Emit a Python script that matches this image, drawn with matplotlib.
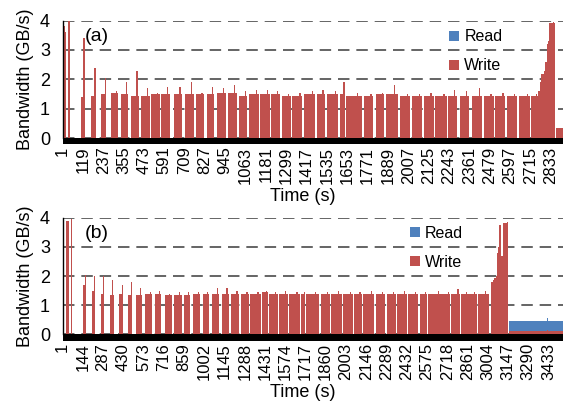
import numpy as np
import matplotlib
matplotlib.use("Agg")
import matplotlib.pyplot as plt
from matplotlib.patches import Rectangle

plt.rcParams["font.family"] = ["Liberation Sans", "DejaVu Sans"]

READ_COLOR = "#4F81BD"
WRITE_COLOR = "#C0504D"

# ---- run (a) : per-second bandwidth, write bursts (start s, end s, level, peak in GB/s)
a_seconds = 2907
a_tick_step = 118
a_write_start = [1, 15, 32, 111, 168, 226, 284, 342, 400, 459, 517, 575, 648, 710, 775, 837,
                 895, 959, 1024, 1084, 1148, 1211, 1273, 1334, 1404, 1476, 1538, 1612, 1647,
                 1751, 1821, 1879, 1961, 2029, 2100, 2164, 2238, 2310, 2378, 2445, 2513, 2581,
                 2649, 2720, 2763, 2781, 2804, 2815, 2825, 2863]
a_write_end = [14, 22, 42, 126, 193, 255, 323, 381, 443, 507, 565, 623, 691, 763, 821, 881,
               947, 1011, 1073, 1141, 1206, 1261, 1327, 1393, 1466, 1525, 1602, 1641, 1738,
               1805, 1868, 1945, 2015, 2087, 2154, 2232, 2290, 2358, 2436, 2503, 2571, 2639,
               2716, 2762, 2780, 2803, 2814, 2824, 2858, 2907]
a_write_level = [3.8, 3.6, 3.98, 1.4, 1.45, 1.5, 1.55, 1.5, 1.45, 1.45, 1.5, 1.5, 1.5, 1.5, 1.5, 1.5,
                 1.55, 1.55, 1.45, 1.5, 1.5, 1.5, 1.45, 1.45, 1.5, 1.5, 1.5, 1.5, 1.45,
                 1.45, 1.5, 1.5, 1.45, 1.45, 1.45, 1.45, 1.45, 1.45, 1.45, 1.45, 1.45, 1.45,
                 1.45, 1.45, 1.6, 2.2, 2.6, 3.2, 3.9, 0.35]
a_write_peak = [3.8, 3.6, 3.98, 3.4, 2.4, 2.05, 1.6, 1.9, 2.3, 1.7, 1.55, 1.75, 1.75, 1.9, 1.55, 1.75,
                1.7, 1.8, 1.6, 1.65, 1.65, 1.6, 1.5, 1.55, 1.6, 1.65, 1.6, 1.9, 1.55,
                1.5, 1.55, 1.8, 1.5, 1.5, 1.55, 1.5, 1.65, 1.6, 1.7, 1.5, 1.55, 1.5,
                1.5, 1.5, 1.9, 2.3, 2.6, 3.3, 3.95, 0.35]
a_read_start = []
a_read_end = []
a_read_level = []
a_read_peak = []

# ---- run (b)
b_seconds = 3538
b_tick_step = 143
b_write_start = [27, 58, 145, 211, 270, 334, 399, 463, 522, 586, 652, 723, 789, 859, 923, 994,
                 1060, 1128, 1190, 1261, 1324, 1411, 1459, 1531, 1600, 1685, 1718, 1825, 1895,
                 1980, 2062, 2122, 2214, 2292, 2366, 2444, 2527, 2586, 2685, 2747, 2817, 2869,
                 2935, 3029, 3051, 3071, 3086, 3098, 3112, 3152]
b_write_end = [46, 70, 164, 232, 291, 362, 428, 491, 562, 629, 699, 770, 841, 902, 972, 1036,
               1102, 1173, 1248, 1317, 1402, 1454, 1524, 1591, 1678, 1713, 1815, 1890, 1973,
               2051, 2115, 2202, 2280, 2357, 2433, 2515, 2575, 2681, 2739, 2810, 2865, 2928,
               3010, 3050, 3070, 3085, 3097, 3111, 3150, 3538]
b_write_level = [3.9, 3.95, 1.7, 1.5, 1.4, 1.35, 1.4, 1.35, 1.35, 1.4, 1.4, 1.35, 1.35, 1.35, 1.4, 1.4,
                 1.4, 1.4, 1.4, 1.4, 1.4, 1.45, 1.4, 1.4, 1.4, 1.4, 1.4, 1.4, 1.4,
                 1.4, 1.4, 1.4, 1.4, 1.4, 1.4, 1.4, 1.4, 1.4, 1.4, 1.4, 1.4, 1.4,
                 1.4, 1.8, 1.95, 2.8, 3.75, 2.7, 3.82, 0.12]
b_write_peak = [3.9, 3.95, 2.05, 2.0, 2.0, 1.85, 1.7, 1.8, 1.6, 1.45, 1.5, 1.4, 1.45, 1.45, 1.45, 1.45,
                1.6, 1.6, 1.5, 1.45, 1.45, 1.5, 1.45, 1.5, 1.45, 1.45, 1.45, 1.45, 1.5,
                1.45, 1.45, 1.5, 1.45, 1.45, 1.5, 1.45, 1.45, 1.5, 1.45, 1.55, 1.45, 1.45,
                1.5, 1.85, 2.0, 3.0, 3.75, 2.7, 3.85, 0.15]
b_read_start = [1, 3152]
b_read_end = [3, 3538]
b_read_level = [4.0, 0.35]
b_read_peak = [4.0, 0.42]


def per_second(n, starts, ends, levels, peaks):
    vals = np.zeros(n)
    for s, e, lv, pk in zip(starts, ends, levels, peaks):
        vals[s - 1:e] = lv
        if pk > lv:
            p = s - 1 + int(0.7 * (e - s))
            vals[p:p + 8] = pk
    return vals


def draw_panel(ax, n, write, read, step, tag, legend_xy):
    t = np.arange(1, n + 1)
    wb = ax.bar(t, write, width=1.0, color=WRITE_COLOR, linewidth=0,
                antialiased=False, zorder=2)
    rb = ax.bar(t, read, width=1.0, bottom=write, color=READ_COLOR, linewidth=0,
                antialiased=False, zorder=2)
    ax.set_xlim(0.5, n + 0.5)
    ax.set_ylim(0, 4)
    ax.set_yticks(range(5))
    ax.yaxis.grid(True, linestyle=(0, (7.5, 4.5)), color="#3a3a3a", linewidth=1.1)
    ax.set_axisbelow(True)

    ticks = np.arange(1, n + 1, step)
    ax.set_xticks(ticks)
    ax.set_xticklabels([str(v) for v in ticks], rotation=90)
    ax.tick_params(axis="x", length=0, pad=6, labelsize=12)
    ax.tick_params(axis="y", length=0, pad=9, labelsize=13)
    for s in ("top", "right", "bottom"):
        ax.spines[s].set_visible(False)
    ax.spines["left"].set_linewidth(1.0)
    # one tick mark per second packs into a solid black band under the axis
    ax.add_patch(Rectangle((0, -0.052), 1, 0.052, transform=ax.transAxes,
                           facecolor="black", edgecolor="none", clip_on=False, zorder=3))

    ax.set_ylabel("Bandwidth (GB/s)", fontsize=13)
    ax.yaxis.set_label_coords(-0.057, 0.5)
    ax.set_xlabel("Time (s)", fontsize=13)
    ax.xaxis.set_label_coords(0.48, -0.425)

    ax.text(0.045, 0.865, tag, transform=ax.transAxes, fontsize=14, va="center")
    ax.legend([rb, wb], ["Read", "Write"], loc="upper left", bbox_to_anchor=legend_xy,
              frameon=False, fontsize=11.5, handlelength=0.6, handleheight=0.6,
              handletextpad=0.35, labelspacing=0.88, borderpad=0, borderaxespad=0)


fig = plt.figure(figsize=(5.71, 4.03), dpi=100)
ax_a = fig.add_axes([0.1095, 0.657, 0.877, 0.292])
ax_b = fig.add_axes([0.1095, 0.170, 0.877, 0.290])

draw_panel(ax_a, a_seconds,
           per_second(a_seconds, a_write_start, a_write_end, a_write_level, a_write_peak),
           per_second(a_seconds, a_read_start, a_read_end, a_read_level, a_read_peak),
           a_tick_step, "(a)", (0.772, 0.925))
draw_panel(ax_b, b_seconds,
           per_second(b_seconds, b_write_start, b_write_end, b_write_level, b_write_peak),
           per_second(b_seconds, b_read_start, b_read_end, b_read_level, b_read_peak),
           b_tick_step, "(b)", (0.694, 0.93))

fig.savefig("out.png", dpi=100)
